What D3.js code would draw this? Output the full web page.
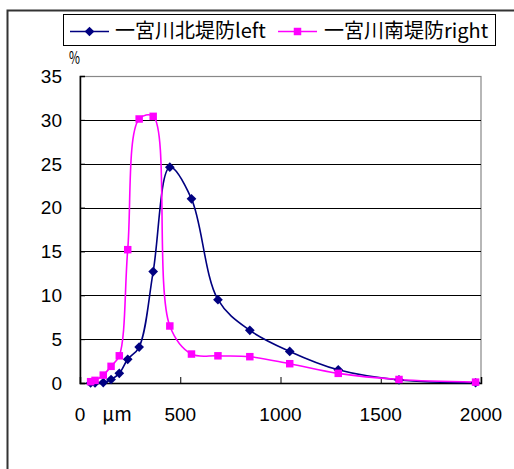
<!DOCTYPE html>
<html>
<head>
<meta charset="utf-8">
<script src="https://cdn.jsdelivr.net/npm/d3@7"></script>
<style>
  html, body { margin: 0; padding: 0; background: #fff; }
  svg { display: block; }
</style>
</head>
<body>
<svg id="chart" width="514" height="469"></svg>
<script>
// Grain size (µm) shared by both sampling points
const sizes = [53, 75, 116, 155, 196, 238, 295, 365, 448, 556, 688, 847, 1046, 1288, 1591, 1973];
// Percentage retained at each size
const northLeft  = [0, 0, 0.05, 0.4, 1.1, 2.7, 4.1, 12.7, 24.6, 21.0, 9.5, 6.0, 3.6, 1.5, 0.35, 0.03];
const southRight = [0.15, 0.3, 0.9, 1.9, 3.1, 15.2, 30.1, 30.4, 6.5, 3.3, 3.1, 3.0, 2.2, 1.1, 0.4, 0.1];
const seriesNames = ["一宮川北堤防left", "一宮川南堤防right"];
const yTicks = [0, 5, 10, 15, 20, 25, 30, 35];
const xTicks = [0, 500, 1000, 1500, 2000];

const svg = d3.select("#chart");
const plot = { left: 80, right: 481, top: 76, bottom: 383 };

const x = d3.scaleLinear().domain([0, 2000]).range([plot.left, plot.right]);
const y = d3.scaleLinear().domain([0, 35]).range([plot.bottom, plot.top]);

// Outer chart frame (right and bottom edges fall outside the view)
svg.append("path")
  .attr("d", "M7.5,469 L7.5,10.5 L514,10.5")
  .attr("fill", "none").attr("stroke", "#333").attr("stroke-width", 2);

// Plot-area border
svg.append("rect")
  .attr("x", plot.left).attr("y", plot.top + 0.5)
  .attr("width", plot.right - plot.left).attr("height", plot.bottom - plot.top)
  .attr("fill", "none").attr("stroke", "#888").attr("stroke-width", 1.2);

// Horizontal gridlines
svg.append("g")
  .selectAll("line")
  .data(yTicks.filter(d => d > 0 && d < 35))
  .join("line")
  .attr("x1", plot.left).attr("x2", plot.right)
  .attr("y1", d => Math.round(y(d)) + 0.5).attr("y2", d => Math.round(y(d)) + 0.5)
  .attr("stroke", "#000").attr("stroke-width", 1);

// Axes with inward ticks
const yAxis = d3.axisLeft(y).tickValues(yTicks).tickSize(-5).tickFormat("");
const gy = svg.append("g").attr("transform", `translate(${plot.left},0)`).call(yAxis);
gy.select(".domain").attr("stroke", "#000").attr("stroke-width", 1.5);
gy.selectAll(".tick line").attr("stroke", "#000");

const xAxis = d3.axisBottom(x).tickValues(xTicks).tickSize(-6).tickFormat("");
const gx = svg.append("g").attr("transform", `translate(0,${plot.bottom})`).call(xAxis);
gx.select(".domain").attr("stroke", "#000").attr("stroke-width", 1.5);
gx.selectAll(".tick line").attr("stroke", "#000");

// Tick labels
const labelFont = "'Liberation Sans', Arial, sans-serif";
svg.append("g")
  .selectAll("text")
  .data(yTicks)
  .join("text")
  .attr("x", 62).attr("y", d => y(d))
  .attr("dy", "0.36em")
  .attr("text-anchor", "end")
  .attr("font-family", labelFont).attr("font-size", 19)
  .attr("fill", "#000")
  .text(d => d);

svg.append("g")
  .selectAll("text")
  .data(xTicks)
  .join("text")
  .attr("x", d => x(d)).attr("y", 414)
  .attr("dy", "0.36em")
  .attr("text-anchor", "middle")
  .attr("font-family", labelFont).attr("font-size", 19)
  .attr("fill", "#000")
  .text(d => d);

// Units
svg.append("text")
  .attr("x", 117).attr("y", 414).attr("dy", "0.36em")
  .attr("text-anchor", "middle")
  .attr("font-family", "'Noto Sans CJK JP', sans-serif").attr("font-size", 19)
  .text("μm");
svg.append("text")
  .attr("transform", "translate(74.5,58) scale(0.7,1)")
  .attr("dy", "0.36em")
  .attr("text-anchor", "middle")
  .attr("font-family", "'Noto Sans CJK JP', sans-serif").attr("font-size", 17)
  .text("%");

// Series lines, smoothed (centripetal Catmull-Rom keeps the peaks tight)
const line = d3.line()
  .x(d => x(d[0])).y(d => y(d[1]))
  .curve(d3.curveCatmullRom.alpha(0.5));

const series = [
  { name: seriesNames[0], values: northLeft, color: "#000080", marker: d3.symbolDiamond2, msize: 60 },
  { name: seriesNames[1], values: southRight, color: "#FF00FF", marker: d3.symbolSquare, msize: 56 }
];

series.forEach(s => {
  const pts = sizes.map((v, i) => [v, s.values[i]]);
  svg.append("path")
    .datum(pts)
    .attr("d", line)
    .attr("fill", "none")
    .attr("stroke", s.color)
    .attr("stroke-width", 1.6);
});

series.forEach(s => {
  const pts = sizes.map((v, i) => [v, s.values[i]]);
  svg.append("g")
    .selectAll("path")
    .data(pts)
    .join("path")
    .attr("transform", d => `translate(${x(d[0])},${y(d[1])})`)
    .attr("d", d3.symbol().type(s.marker).size(s.msize))
    .attr("fill", s.color);
});

// Legend
const legend = svg.append("g");
legend.append("rect")
  .attr("x", 63.5).attr("y", 14.5).attr("width", 432).attr("height", 31)
  .attr("fill", "#fff").attr("stroke", "#000").attr("stroke-width", 1);

const legendItems = [
  { lx: 70, tx: 115 },
  { lx: 278, tx: 324 }
];
series.forEach((s, i) => {
  const it = legendItems[i];
  legend.append("line")
    .attr("x1", it.lx).attr("x2", it.lx + 39)
    .attr("y1", 31.5).attr("y2", 31.5)
    .attr("stroke", s.color).attr("stroke-width", 1.6);
  legend.append("path")
    .attr("transform", `translate(${it.lx + 19.5},31.5)`)
    .attr("d", d3.symbol().type(s.marker).size(s.msize))
    .attr("fill", s.color);
  legend.append("text")
    .attr("x", it.tx).attr("y", 31).attr("dy", "0.36em")
    .attr("font-family", "'Noto Sans CJK JP', sans-serif").attr("font-size", 20)
    .attr("fill", "#000")
    .text(s.name);
});
</script>
</body>
</html>
